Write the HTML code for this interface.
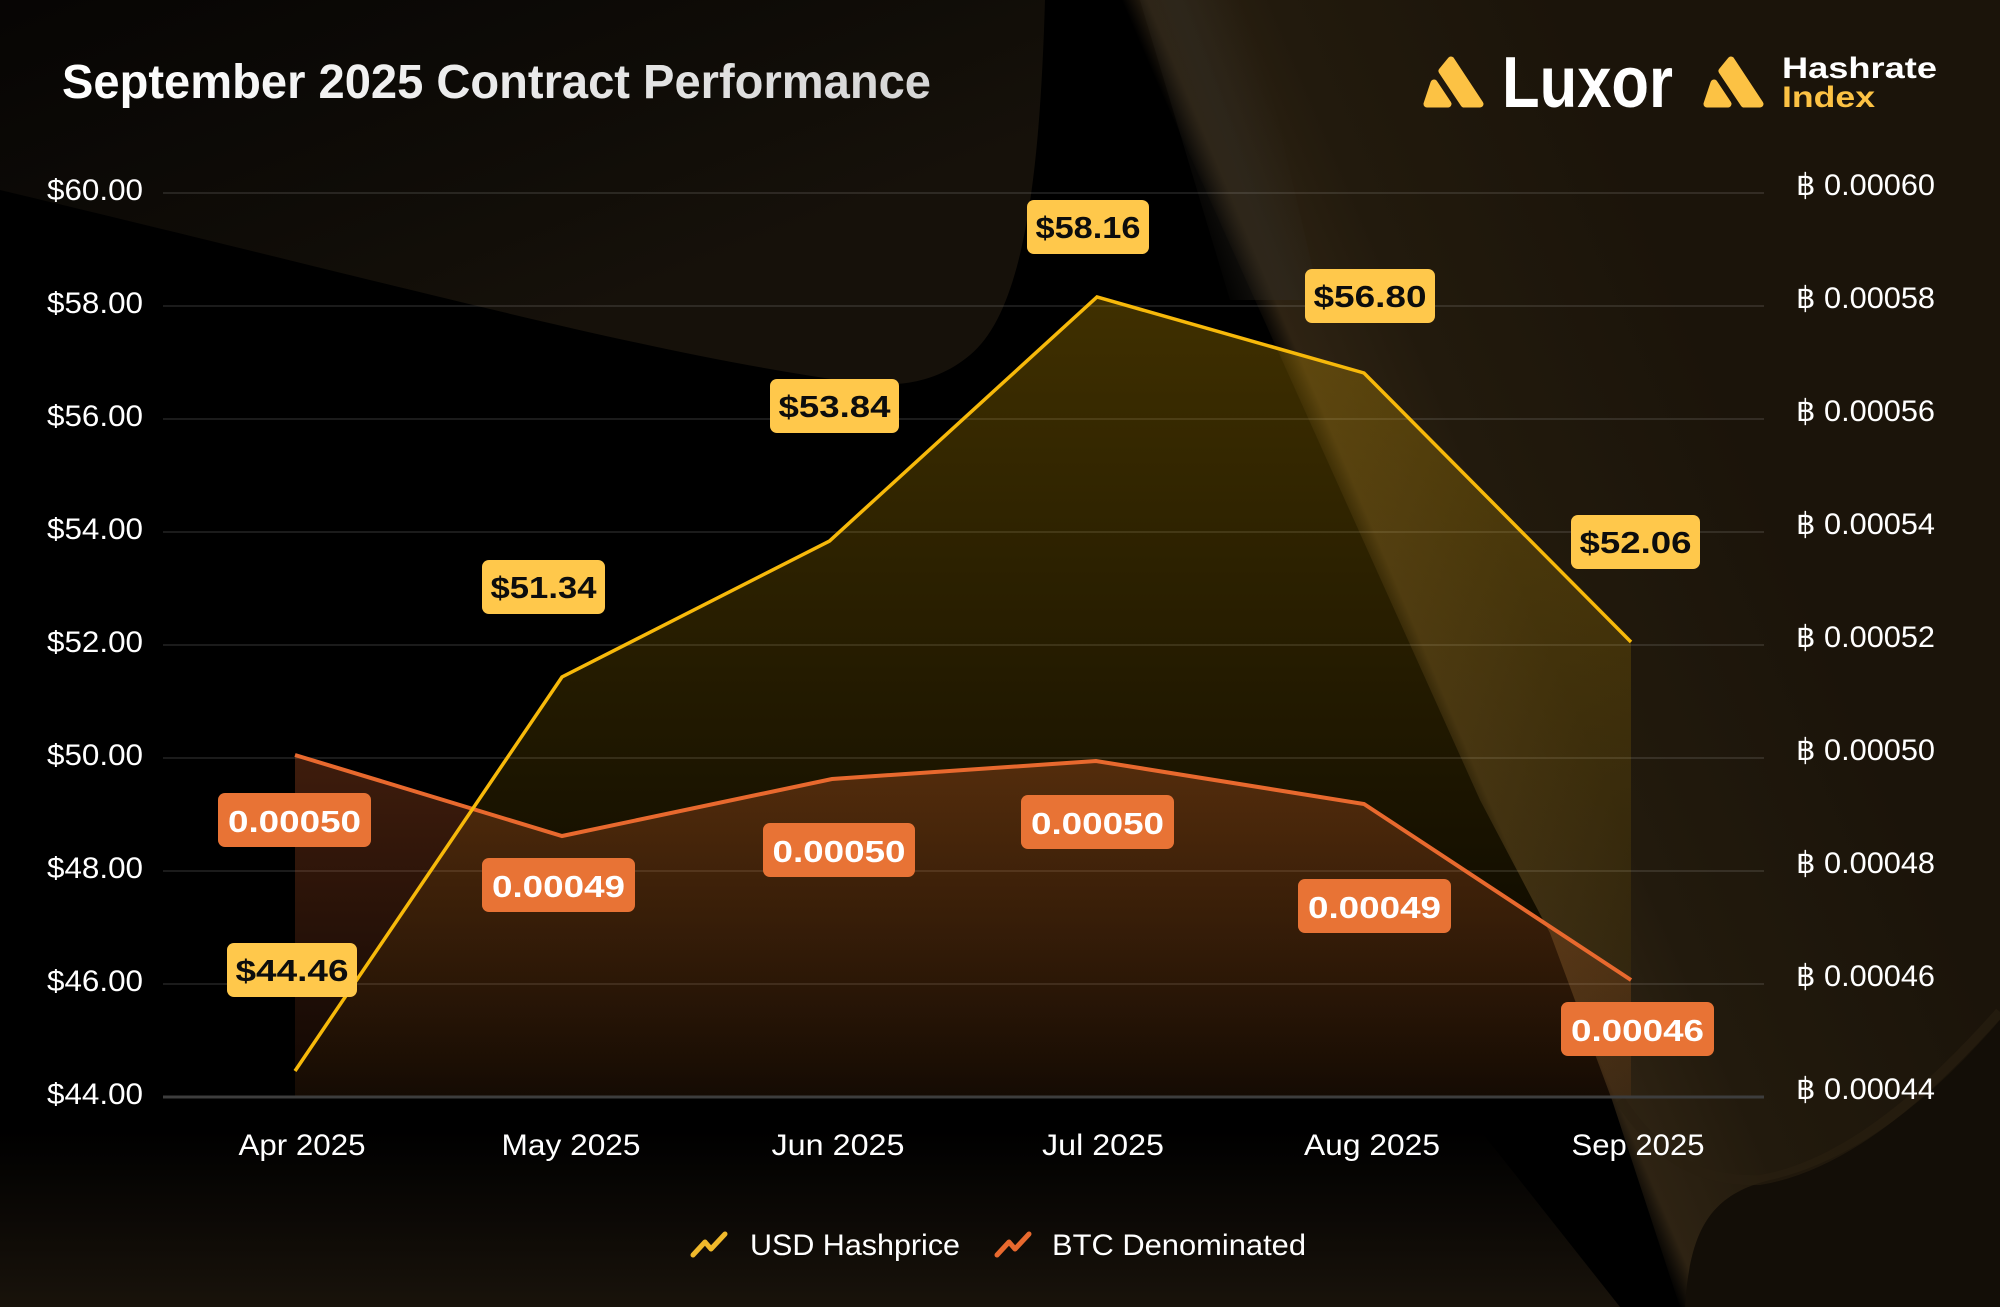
<!DOCTYPE html>
<html>
<head>
<meta charset="utf-8">
<style>
  html, body { margin: 0; padding: 0; background: #000; }
  body { width: 2000px; height: 1307px; overflow: hidden; }
  svg { display: block; }
  text { font-family: "Liberation Sans", "DejaVu Sans", sans-serif; }
</style>
</head>
<body>
<svg width="2000" height="1307" viewBox="0 0 2000 1307" xmlns="http://www.w3.org/2000/svg">
  <defs>
    <linearGradient id="rightBrown" gradientUnits="userSpaceOnUse" x1="1400" y1="653" x2="1768" y2="496">
      <stop offset="0" stop-color="#2a2012" stop-opacity="0"/>
      <stop offset="0.06" stop-color="#2e2313" stop-opacity="1"/>
      <stop offset="0.35" stop-color="#221a0d"/>
      <stop offset="1" stop-color="#1b140a"/>
    </linearGradient>
    <linearGradient id="streak" gradientUnits="userSpaceOnUse" x1="1150" y1="100" x2="1260" y2="60">
      <stop offset="0" stop-color="#2e2920" stop-opacity="0"/>
      <stop offset="0.5" stop-color="#2e2920" stop-opacity="0.9"/>
      <stop offset="1" stop-color="#2e2920" stop-opacity="0"/>
    </linearGradient>
    <linearGradient id="topLeft" gradientUnits="userSpaceOnUse" x1="300" y1="-100" x2="480" y2="360">
      <stop offset="0" stop-color="#070504"/>
      <stop offset="0.6" stop-color="#0f0c07"/>
      <stop offset="1" stop-color="#16110a"/>
    </linearGradient>
    <linearGradient id="bottomBand" gradientUnits="userSpaceOnUse" x1="0" y1="1130" x2="0" y2="1307">
      <stop offset="0" stop-color="#17110a" stop-opacity="0"/>
      <stop offset="1" stop-color="#19130b" stop-opacity="1"/>
    </linearGradient>
    <linearGradient id="usdFill" gradientUnits="userSpaceOnUse" x1="0" y1="297" x2="0" y2="1097">
      <stop offset="0" stop-color="#f5b800" stop-opacity="0.26"/>
      <stop offset="1" stop-color="#f5b800" stop-opacity="0.02"/>
    </linearGradient>
    <linearGradient id="btcFill" gradientUnits="userSpaceOnUse" x1="0" y1="755" x2="0" y2="1097">
      <stop offset="0" stop-color="#e8692e" stop-opacity="0.27"/>
      <stop offset="1" stop-color="#e8692e" stop-opacity="0.07"/>
    </linearGradient>
    <linearGradient id="titleGrad" gradientUnits="userSpaceOnUse" x1="62" y1="0" x2="931" y2="0">
      <stop offset="0" stop-color="#ffffff"/>
      <stop offset="1" stop-color="#d6d6d6"/>
    </linearGradient>
  </defs>

  <!-- ===== Background ===== -->
  <rect x="0" y="0" width="2000" height="1307" fill="#000"/>
  <!-- top-left dim band -->
  <path d="M0,0 L1045,0 C1040,170 1025,310 970,355 C940,380 905,388 860,383 C650,355 420,290 0,190 Z" fill="url(#topLeft)"/>
  <!-- right brown region -->
  <path d="M1120,0 L2000,0 L2000,1307 L1680,1307 L1612,1100 L1550,933 L1480,800 Z" fill="url(#rightBrown)"/>
  <!-- lighter streak at top of band -->
  <path d="M1140,0 L1250,0 L1320,300 L1230,300 Z" fill="url(#streak)" opacity="0.7"/>
  <!-- bottom-right darker corner -->
  <path d="M1685,1307 C1690,1230 1710,1195 1770,1180 C1860,1160 1940,1090 2000,1020 L2000,1307 Z" fill="#130e07"/>
  <path d="M1620,1100 C1660,1160 1700,1182 1760,1180 C1850,1165 1935,1085 2000,1012" fill="none" stroke="#2a1f10" stroke-width="10" opacity="0.6"/>
  <!-- bottom band -->
  <path d="M0,1130 L1480,1130 L1620,1307 L0,1307 Z" fill="url(#bottomBand)"/>

  <!-- ===== Title ===== -->
  <text x="62" y="98" font-size="48" font-weight="700" fill="url(#titleGrad)" textLength="869" lengthAdjust="spacingAndGlyphs">September 2025 Contract Performance</text>

  <!-- ===== Logos ===== -->
  <g fill="#fcc244" stroke="#fcc244" stroke-width="7" stroke-linejoin="round">
    <polygon points="1451,60 1480,104 1464,104 1442,71"/>
    <polygon points="1434,83 1448,104 1427,104"/>
    <polygon points="1731,60 1760,104 1744,104 1722,71"/>
    <polygon points="1714,83 1728,104 1707,104"/>
  </g>
  <text x="1502" y="107" font-size="72" font-weight="700" fill="#ffffff" textLength="171" lengthAdjust="spacingAndGlyphs">Luxor</text>
  <text x="1782" y="78" font-size="30" font-weight="700" fill="#ffffff" textLength="155" lengthAdjust="spacingAndGlyphs">Hashrate</text>
  <text x="1782" y="107" font-size="30" font-weight="700" fill="#fcc244" textLength="93" lengthAdjust="spacingAndGlyphs">Index</text>

  <!-- ===== Grid ===== -->
  <g stroke="#ffffff" stroke-opacity="0.14" stroke-width="1.5">
    <line x1="163" y1="193" x2="1764" y2="193"/>
    <line x1="163" y1="306" x2="1764" y2="306"/>
    <line x1="163" y1="419" x2="1764" y2="419"/>
    <line x1="163" y1="532" x2="1764" y2="532"/>
    <line x1="163" y1="645" x2="1764" y2="645"/>
    <line x1="163" y1="758" x2="1764" y2="758"/>
    <line x1="163" y1="871" x2="1764" y2="871"/>
    <line x1="163" y1="984" x2="1764" y2="984"/>
  </g>

  <!-- ===== Area fills ===== -->
  <polygon points="295,1097 295,1071 562,677 829.5,541 1097,297 1364,373 1631,642 1631,1097" fill="url(#usdFill)"/>
  <polygon points="295,1097 295,755 562,836 832,779 1096,761 1364,804 1631,980 1631,1097" fill="url(#btcFill)"/>

  <!-- baseline -->
  <line x1="163" y1="1097" x2="1764" y2="1097" stroke="#3d3d3d" stroke-width="3"/>

  <!-- ===== Lines ===== -->
  <polyline points="295,755 562,836 832,779 1096,761 1364,804 1631,980" fill="none" stroke="#e8692e" stroke-width="4"/>
  <polyline points="295,1071 562,677 829.5,541 1097,297 1364,373 1631,642" fill="none" stroke="#f7b90a" stroke-width="3.5"/>

  <!-- ===== Left axis labels ===== -->
  <g font-size="30" fill="#ffffff" text-anchor="end">
    <text x="143" y="200" textLength="96" lengthAdjust="spacingAndGlyphs">$60.00</text>
    <text x="143" y="313" textLength="96" lengthAdjust="spacingAndGlyphs">$58.00</text>
    <text x="143" y="426" textLength="96" lengthAdjust="spacingAndGlyphs">$56.00</text>
    <text x="143" y="539" textLength="96" lengthAdjust="spacingAndGlyphs">$54.00</text>
    <text x="143" y="652" textLength="96" lengthAdjust="spacingAndGlyphs">$52.00</text>
    <text x="143" y="765" textLength="96" lengthAdjust="spacingAndGlyphs">$50.00</text>
    <text x="143" y="878" textLength="96" lengthAdjust="spacingAndGlyphs">$48.00</text>
    <text x="143" y="991" textLength="96" lengthAdjust="spacingAndGlyphs">$46.00</text>
    <text x="143" y="1104" textLength="96" lengthAdjust="spacingAndGlyphs">$44.00</text>
  </g>

  <!-- ===== Right axis labels ===== -->
  <g font-size="30" fill="#ffffff">
    <text x="1796" y="195" textLength="139" lengthAdjust="spacingAndGlyphs">฿ 0.00060</text>
    <text x="1796" y="308" textLength="139" lengthAdjust="spacingAndGlyphs">฿ 0.00058</text>
    <text x="1796" y="421" textLength="139" lengthAdjust="spacingAndGlyphs">฿ 0.00056</text>
    <text x="1796" y="534" textLength="139" lengthAdjust="spacingAndGlyphs">฿ 0.00054</text>
    <text x="1796" y="647" textLength="139" lengthAdjust="spacingAndGlyphs">฿ 0.00052</text>
    <text x="1796" y="760" textLength="139" lengthAdjust="spacingAndGlyphs">฿ 0.00050</text>
    <text x="1796" y="873" textLength="139" lengthAdjust="spacingAndGlyphs">฿ 0.00048</text>
    <text x="1796" y="986" textLength="139" lengthAdjust="spacingAndGlyphs">฿ 0.00046</text>
    <text x="1796" y="1099" textLength="139" lengthAdjust="spacingAndGlyphs">฿ 0.00044</text>
  </g>

  <!-- ===== X axis labels ===== -->
  <g font-size="30" fill="#ffffff" text-anchor="middle">
    <text x="302" y="1155" textLength="127" lengthAdjust="spacingAndGlyphs">Apr 2025</text>
    <text x="571" y="1155" textLength="139" lengthAdjust="spacingAndGlyphs">May 2025</text>
    <text x="838" y="1155" textLength="133" lengthAdjust="spacingAndGlyphs">Jun 2025</text>
    <text x="1103" y="1155" textLength="122" lengthAdjust="spacingAndGlyphs">Jul 2025</text>
    <text x="1372" y="1155" textLength="136" lengthAdjust="spacingAndGlyphs">Aug 2025</text>
    <text x="1638" y="1155" textLength="133" lengthAdjust="spacingAndGlyphs">Sep 2025</text>
  </g>

  <!-- ===== USD data labels ===== -->
  <g>
    <rect x="227" y="943" width="130" height="54" rx="7" fill="#ffc84b"/>
    <rect x="482" y="560" width="123" height="54" rx="7" fill="#ffc84b"/>
    <rect x="770" y="379" width="129" height="54" rx="7" fill="#ffc84b"/>
    <rect x="1027" y="200" width="122" height="54" rx="7" fill="#ffc84b"/>
    <rect x="1305" y="269" width="130" height="54" rx="7" fill="#ffc84b"/>
    <rect x="1571" y="515" width="129" height="54" rx="7" fill="#ffc84b"/>
  </g>
  <g font-size="31" font-weight="700" fill="#0d0d0d" text-anchor="middle">
    <text x="292" y="981" textLength="113" lengthAdjust="spacingAndGlyphs">$44.46</text>
    <text x="543.5" y="598" textLength="106" lengthAdjust="spacingAndGlyphs">$51.34</text>
    <text x="834.5" y="417" textLength="112" lengthAdjust="spacingAndGlyphs">$53.84</text>
    <text x="1088" y="238" textLength="105" lengthAdjust="spacingAndGlyphs">$58.16</text>
    <text x="1370" y="307" textLength="113" lengthAdjust="spacingAndGlyphs">$56.80</text>
    <text x="1635.5" y="553" textLength="112" lengthAdjust="spacingAndGlyphs">$52.06</text>
  </g>

  <!-- ===== BTC data labels ===== -->
  <g>
    <rect x="218" y="793" width="153" height="54" rx="7" fill="#e87335"/>
    <rect x="482" y="858" width="153" height="54" rx="7" fill="#e87335"/>
    <rect x="763" y="823" width="152" height="54" rx="7" fill="#e87335"/>
    <rect x="1021" y="795" width="153" height="54" rx="7" fill="#e87335"/>
    <rect x="1298" y="879" width="153" height="54" rx="7" fill="#e87335"/>
    <rect x="1561" y="1002" width="153" height="54" rx="7" fill="#e87335"/>
  </g>
  <g font-size="31" font-weight="700" fill="#ffffff" text-anchor="middle">
    <text x="294.5" y="832" textLength="133" lengthAdjust="spacingAndGlyphs">0.00050</text>
    <text x="558.5" y="897" textLength="133" lengthAdjust="spacingAndGlyphs">0.00049</text>
    <text x="839" y="862" textLength="133" lengthAdjust="spacingAndGlyphs">0.00050</text>
    <text x="1097.5" y="834" textLength="133" lengthAdjust="spacingAndGlyphs">0.00050</text>
    <text x="1374.5" y="918" textLength="133" lengthAdjust="spacingAndGlyphs">0.00049</text>
    <text x="1637.5" y="1041" textLength="133" lengthAdjust="spacingAndGlyphs">0.00046</text>
  </g>

  <!-- ===== Legend ===== -->
  <polyline points="693,1255 705,1242 711,1249 725,1234" fill="none" stroke="#f0b92b" stroke-width="5" stroke-linecap="round" stroke-linejoin="round"/>
  <text x="750" y="1255" font-size="30" fill="#ffffff" textLength="210" lengthAdjust="spacingAndGlyphs">USD Hashprice</text>
  <polyline points="997,1255 1009,1242 1015,1249 1029,1234" fill="none" stroke="#e8692e" stroke-width="5" stroke-linecap="round" stroke-linejoin="round"/>
  <text x="1052" y="1255" font-size="30" fill="#ffffff" textLength="254" lengthAdjust="spacingAndGlyphs">BTC Denominated</text>
</svg>
</body>
</html>
